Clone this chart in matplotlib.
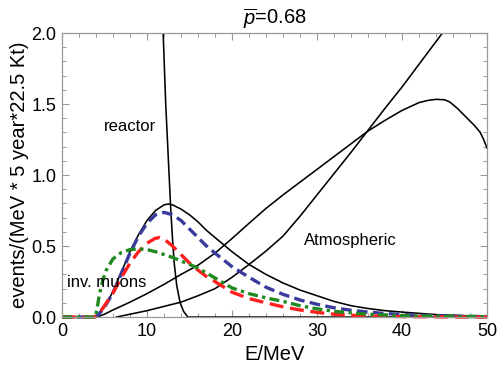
import matplotlib
matplotlib.use("Agg")
import matplotlib.pyplot as plt
from matplotlib.patches import Rectangle
from matplotlib.ticker import MultipleLocator

plt.rcParams['font.family'] = ['Liberation Sans', 'DejaVu Sans']
plt.rcParams['mathtext.fontset'] = 'custom'
plt.rcParams['mathtext.it'] = 'Liberation Sans:italic'
plt.rcParams['mathtext.rm'] = 'Liberation Sans'

# ---- data ----
reactor_E = [11.5, 11.9, 12.2, 12.6, 12.8, 13.0, 13.2, 13.5, 13.9, 14.3, 14.8, 50]
reactor_y = [2.5, 2.0, 1.5, 1.0, 0.75, 0.55, 0.38, 0.22, 0.10, 0.04, 0.0, 0.0]

bell_E = [4, 5, 6, 7, 8, 9, 10, 11, 12, 12.5, 13, 14, 15, 16, 17, 18, 19, 20, 22, 24, 26,
          28, 30, 32, 34, 36, 38, 40, 44, 47, 50]
bell_y = [0, 0.07, 0.18, 0.32, 0.46, 0.58, 0.68, 0.75, 0.79, 0.796, 0.79, 0.76, 0.72, 0.67,
          0.61, 0.56, 0.51, 0.46, 0.37, 0.30, 0.24, 0.19, 0.15, 0.11, 0.08, 0.06, 0.045,
          0.035, 0.017, 0.01, 0.005]

flat_E = [4.1, 5, 6, 8, 10, 12, 14, 16, 18, 20, 22, 24, 26, 28, 30, 32, 34, 36, 38, 40, 42,
          43, 44, 45, 45.6, 46.5, 47.5, 48.5, 49.2, 49.6, 50]
flat_y = [0, 0.02, 0.05, 0.105, 0.165, 0.23, 0.30, 0.365, 0.45, 0.553, 0.66, 0.765, 0.86,
          0.95, 1.04, 1.13, 1.22, 1.31, 1.385, 1.455, 1.51, 1.525, 1.533, 1.53, 1.515,
          1.47, 1.41, 1.35, 1.30, 1.25, 1.19]

steep_E = [6.4, 8, 10, 12, 14, 16, 18, 20, 22, 24, 26, 28, 30, 32, 34, 36, 38, 40, 42, 44,
           46, 48, 50]
steep_y = [0, 0.02, 0.045, 0.075, 0.105, 0.15, 0.20, 0.28, 0.37, 0.465, 0.57, 0.71, 0.86,
           1.01, 1.16, 1.315, 1.47, 1.62, 1.78, 1.94, 2.1, 2.27, 2.45]

blue_E = [0, 2, 3.8, 4.2, 5, 6, 7, 8, 9, 10, 11, 12, 13, 14, 15, 16, 17, 18, 20, 22, 24, 26,
          28, 30, 32, 34, 36, 38, 40, 43, 46, 50]
blue_y = [0, 0, 0, 0.01, 0.07, 0.17, 0.31, 0.45, 0.57, 0.66, 0.72, 0.737, 0.72, 0.68, 0.62,
          0.56, 0.50, 0.45, 0.355, 0.28, 0.21, 0.16, 0.12, 0.09, 0.065, 0.048, 0.035, 0.025,
          0.018, 0.01, 0.006, 0.003]

red_E = [0, 2, 3.8, 4.3, 5, 6, 7, 8, 9, 10, 11, 11.5, 12, 13, 14, 15, 16, 17, 18, 20, 22, 24,
         26, 28, 30, 32, 34, 36, 40, 45, 50]
red_y = [0, 0, 0, 0.02, 0.08, 0.17, 0.28, 0.38, 0.46, 0.52, 0.555, 0.56, 0.55, 0.50, 0.44,
         0.38, 0.33, 0.285, 0.25, 0.175, 0.13, 0.10, 0.072, 0.05, 0.033, 0.02, 0.012, 0.008,
         0.003, 0.001, 0.0]

green_E = [0, 2, 3.9, 4.1, 4.4, 4.8, 5.2, 6, 7, 8, 9, 10, 11, 12, 13, 14, 15, 16, 17, 18, 20,
           22, 24, 26, 28, 30, 32, 34, 36, 40, 45, 50]
green_y = [0, 0, 0, 0.05, 0.16, 0.26, 0.33, 0.41, 0.455, 0.475, 0.48, 0.475, 0.46, 0.44,
           0.42, 0.395, 0.37, 0.345, 0.31, 0.275, 0.205, 0.165, 0.135, 0.11, 0.08, 0.058,
           0.04, 0.03, 0.02, 0.01, 0.005, 0.003]

x_ticks = [0, 10, 20, 30, 40, 50]
y_ticks = [0.0, 0.5, 1.0, 1.5, 2.0]
y_ticklabels = ['0.0', '0.5', '1.0', '1.5', '2.0']

# ---- figure ----
fig = plt.figure(figsize=(4.98, 3.73), dpi=100)
ax = fig.add_axes([0.1245, 0.150, 0.8535, 0.7615])
ax.set_xlim(0, 50)
ax.set_ylim(0, 2.0)

clip = Rectangle((0, -0.03), 1, 1.03, transform=ax.transAxes, visible=False)
ax.add_patch(clip)

lines = []
for E, y in [(reactor_E, reactor_y), (bell_E, bell_y), (flat_E, flat_y), (steep_E, steep_y)]:
    l, = ax.plot(E, y, color='black', lw=1.15, solid_joinstyle='round')
    lines.append(l)

l, = ax.plot(blue_E, blue_y, color='#3a3a9c', lw=2.4, dashes=(3.2, 1.6),
             dash_capstyle='butt')
lines.append(l)
l, = ax.plot(red_E, red_y, color='#ff1f1f', lw=2.4, dashes=(4.2, 2.0),
             dash_capstyle='butt')
lines.append(l)
l, = ax.plot(green_E, green_y, color='#1f8a1f', lw=2.4, dashes=(3.0, 1.3, 1.0, 1.3),
             dash_capstyle='butt')
lines.append(l)
for l in lines:
    l.set_clip_path(clip)

ax.text(8.0, 1.34, 'reactor', fontsize=12, ha='center', va='center')
ax.text(0.6, 0.24, 'inv. muons', fontsize=12, ha='left', va='center')
ax.text(33.9, 0.54, 'Atmospheric', fontsize=12, ha='center', va='center')

ax.set_xticks(x_ticks)
ax.set_yticks(y_ticks)
ax.set_yticklabels(y_ticklabels)
ax.xaxis.set_minor_locator(MultipleLocator(2))
ax.yaxis.set_minor_locator(MultipleLocator(0.1))
ax.tick_params(which='both', direction='in', top=True, right=True, color='#999999',
               labelsize=13, pad=4)
ax.tick_params(which='major', length=5, width=0.8)
ax.tick_params(which='minor', length=3, width=0.7)
for s in ax.spines.values():
    s.set_color('#999999')
    s.set_linewidth(0.9)

ax.set_xlabel('E/MeV', fontsize=14.5, labelpad=4)
ax.set_ylabel('events/(MeV * 5 year*22.5 Kt)', fontsize=14.5, labelpad=2)
ax.set_title(r'$\overline{p}$=0.68', fontsize=14.5, pad=6)

fig.savefig('out.png', dpi=100)
